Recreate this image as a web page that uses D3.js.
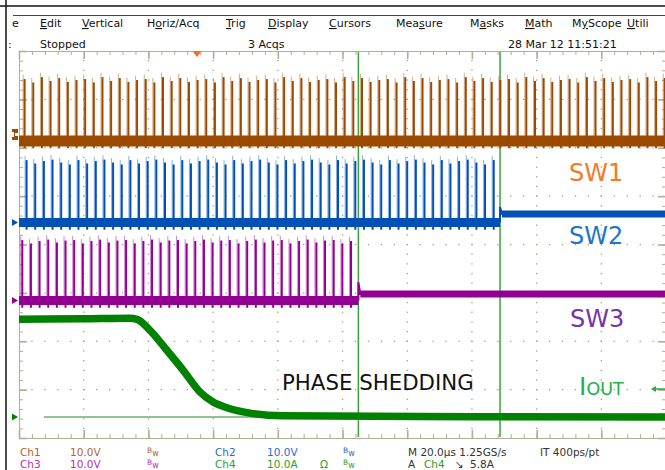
<!DOCTYPE html>
<html>
<head>
<meta charset="utf-8">
<script src="https://cdn.jsdelivr.net/npm/d3@7"></script>
<style>
  body { margin: 0; background: #fff; }
  svg { display: block; }
  text { font-family: "DejaVu Sans", sans-serif; }
  .ruler path, .ruler line { stroke: #b5ad95; }
  .ruler.major line { stroke-width: 1.6; }
</style>
</head>
<body>
<svg id="chart" width="665" height="470"></svg>
<script>
// ---- Menu / status texts
var menuItems = ["e", "Edit", "Vertical", "Horiz/Acq", "Trig", "Display", "Cursors", "Measure", "Masks", "Math", "MyScope", "Utili"];
var menuX = [12, 40, 82, 147, 226, 268, 329, 396, 470, 525, 572, 627];
var menuUnderline = [-1, 0, 0, 1, 0, 0, 0, 3, 1, 0, 1, 0];
var statusTexts = [":", "Stopped", "3 Acqs", "28 Mar 12 11:51:21"];
var statusX = [8, 40, 248, 508];

// ---- Timebase / verticals
var timePerDiv = 20;          // us per division
var nDivX = 10, nDivY = 8;
var triggerTime = 55;         // us
var cursorTimes = [104.9, 148.7];
var voltsPerDiv = 10, ampsPerDiv = 10;
var chOffsets = [2.14, 0.455, -1.158, -3.566];   // ground position, divisions

// ---- Switch nodes
var swPeriod = 2.674;                       // us
var firstPulse = [1.55, 2.16, 0.83];        // SW1, SW2, SW3
var stopTime = [200, 148.4, 104.6];         // last switching time
var sw1Peaks = [13.2, 12.5, 13.6, 12.8, 13.4, 12.6, 13.0];
var sw2Peaks = [13.3, 12.6, 13.1, 13.4, 12.8, 12.4];
var sw3Peaks = [12.9, 12.2, 12.7, 13.0, 12.4, 12.8];
var idleLevel = [0, 1.76, 1.34];            // level after phase is shed
var stepSpike = [0, 3.2, 3.8];

// ---- Output current
var ioutTime = [0, 20, 34.3, 36.5, 40.5, 45.7, 50.7, 55.9, 60, 64.3, 71.4, 81.6, 140, 200];
var ioutAmps = [20.2, 20.3, 20.4, 20.2, 17.9, 13.8, 9.7, 5.2, 3.1, 1.9, 0.8, 0.25, 0.05, 0.0];
var ioutRefStart = 7.7;

// ---- Bottom readouts
var infoRow1 = [
  { t: "Ch1", x: 20, c: "#b0652a" }, { t: "10.0V", x: 70, c: "#b0652a" }, { t: "BW", x: 147, c: "#b0652a" },
  { t: "Ch2", x: 215, c: "#2a6ad0" }, { t: "10.0V", x: 267, c: "#2a6ad0" }, { t: "BW", x: 343, c: "#2a6ad0" },
  { t: "M 20.0\u00b5s 1.25GS/s", x: 408, c: "#333" }, { t: "IT 400ps/pt", x: 540, c: "#333" }
];
var infoRow2 = [
  { t: "Ch3", x: 20, c: "#b032b8" }, { t: "10.0V", x: 70, c: "#b032b8" }, { t: "BW", x: 147, c: "#b032b8" },
  { t: "Ch4", x: 215, c: "#2aa02a" }, { t: "10.0A", x: 267, c: "#2aa02a" }, { t: "\u03a9", x: 320, c: "#2aa02a" },
  { t: "BW", x: 343, c: "#2aa02a" }, { t: "A", x: 408, c: "#333" }, { t: "Ch4", x: 424, c: "#2aa02a" },
  { t: "\u2198", x: 455, c: "#333" }, { t: "5.8A", x: 470, c: "#333" }
];

var traceColors = ["#9b4a00", "#0050b5", "#920092", "#008200"];

// ---- Scales
var grid = { left: 19, top: 51, width: 647, height: 387 };
var xScale = d3.scaleLinear().domain([0, nDivX * timePerDiv]).range([grid.left, grid.left + grid.width]);
var yScale = d3.scaleLinear().domain([nDivY / 2, -nDivY / 2]).range([grid.top, grid.top + grid.height]);
function chY(ch, perDiv) {
  return function (v) { return yScale(chOffsets[ch] + v / perDiv); };
}

var svg = d3.select("#chart");

// Window frame
svg.append("line").attr("x1", 0).attr("x2", 665).attr("y1", 6).attr("y2", 6).attr("stroke", "#111").attr("stroke-width", 1.5);
svg.append("line").attr("x1", 6).attr("x2", 6).attr("y1", 0).attr("y2", 470).attr("stroke", "#111").attr("stroke-width", 1.5);
svg.append("line").attr("x1", 13).attr("x2", 665).attr("y1", 15.5).attr("y2", 15.5).attr("stroke", "#444").attr("stroke-width", 1);

// Menu
menuItems.forEach(function (m, i) {
  var t = svg.append("text").attr("x", menuX[i]).attr("y", 27).attr("font-size", 11).attr("fill", "#111");
  var u = menuUnderline[i];
  if (u < 0) { t.text(m); return; }
  if (u > 0) t.append("tspan").text(m.slice(0, u));
  t.append("tspan").attr("text-decoration", "underline").text(m[u]);
  t.append("tspan").text(m.slice(u + 1));
});
statusTexts.forEach(function (s, i) {
  svg.append("text").attr("x", statusX[i]).attr("y", 48).attr("font-size", 11).attr("fill", "#111").text(s);
});

// Graticule rulers
var xMinor = d3.range(0, nDivX * timePerDiv + 0.01, timePerDiv / 5);
var xMajor = d3.range(0, nDivX * timePerDiv + 0.01, timePerDiv);
var yMinor = d3.range(-4, 4.01, 0.2);
var yMajor = d3.range(-4, 4.01, 1);

function ruler(axis, tr, cls) {
  var g = svg.append("g").attr("class", "ruler " + cls).attr("transform", tr).call(axis);
  g.selectAll("text").remove();
  if (cls === "major") g.select(".domain").remove();
}
ruler(d3.axisBottom(xScale).tickValues(xMinor).tickSize(4).tickSizeOuter(0).tickFormat(""), "translate(0," + grid.top + ")", "minor");
ruler(d3.axisBottom(xScale).tickValues(xMajor).tickSize(8).tickFormat(""), "translate(0," + grid.top + ")", "major");
ruler(d3.axisTop(xScale).tickValues(xMinor).tickSize(4).tickSizeOuter(0).tickFormat(""), "translate(0," + (grid.top + grid.height) + ")", "minor");
ruler(d3.axisTop(xScale).tickValues(xMajor).tickSize(8).tickFormat(""), "translate(0," + (grid.top + grid.height) + ")", "major");
ruler(d3.axisRight(yScale).tickValues(yMinor).tickSize(4).tickSizeOuter(0).tickFormat(""), "translate(" + grid.left + ",0)", "minor");
ruler(d3.axisRight(yScale).tickValues(yMajor).tickSize(8).tickFormat(""), "translate(" + grid.left + ",0)", "major");
ruler(d3.axisLeft(yScale).tickValues(yMinor).tickSize(4).tickSizeOuter(0).tickFormat(""), "translate(" + (grid.left + grid.width) + ",0)", "minor");
ruler(d3.axisLeft(yScale).tickValues(yMajor).tickSize(8).tickFormat(""), "translate(" + (grid.left + grid.width) + ",0)", "major");

// Dotted interior grid
var dots = [];
xMajor.slice(1, -1).forEach(function (t) { yMinor.slice(1, -1).forEach(function (v) { dots.push([t, v]); }); });
yMajor.slice(1, -1).forEach(function (v) { xMinor.slice(1, -1).forEach(function (t) { dots.push([t, v]); }); });
svg.append("g").selectAll("rect").data(dots).enter().append("rect")
  .attr("x", function (d) { return xScale(d[0]) - 0.6; })
  .attr("y", function (d) { return yScale(d[1]) - 0.6; })
  .attr("width", 1.3).attr("height", 1.3).attr("fill", "#a59f88");

// Cursors
svg.append("g").selectAll("line").data(cursorTimes).enter().append("line")
  .attr("x1", function (d) { return xScale(d); }).attr("x2", function (d) { return xScale(d); })
  .attr("y1", grid.top + 1).attr("y2", grid.top + grid.height - 1)
  .attr("stroke", "#3aa53a").attr("stroke-width", 1.5);

// Switch node traces
var line = d3.line().x(function (d) { return xScale(d[0]); });
var peakSets = [sw1Peaks, sw2Peaks, sw3Peaks];
var bandWidth = [11, 9, 9];
[0, 1, 2].forEach(function (ch) {
  var yv = chY(ch, voltsPerDiv);
  var col = traceColors[ch];
  var g = svg.append("g");
  var pulses = [];
  for (var t = firstPulse[ch], k = 0; t < stopTime[ch]; t += swPeriod, k++) {
    pulses.push({ t: t, p: peakSets[ch][k % peakSets[ch].length] });
  }
  // baseline band
  g.append("path").attr("d", line.y(function (d) { return yv(d[1]); })([[0, 0], [Math.min(stopTime[ch] + 0.3, 200), 0]]))
    .attr("stroke", col).attr("stroke-width", bandWidth[ch]).attr("fill", "none");
  // pulses: lighter overshoot edge + solid body
  g.selectAll(".lt").data(pulses).enter().append("line")
    .attr("x1", function (d) { return xScale(d.t) - 0.9; }).attr("x2", function (d) { return xScale(d.t) - 0.9; })
    .attr("y1", yv(0)).attr("y2", function (d) { return yv(d.p + 0.5); })
    .attr("stroke", col).attr("stroke-opacity", 0.45).attr("stroke-width", 1);
  g.selectAll(".pk").data(pulses).enter().append("line")
    .attr("x1", function (d) { return xScale(d.t) + 0.6; }).attr("x2", function (d) { return xScale(d.t) + 0.6; })
    .attr("y1", yv(-1.5)).attr("y2", function (d) { return yv(d.p - 0.4); })
    .attr("stroke", col).attr("stroke-width", 2);
  // phase shed: idle level after switching stops
  if (stopTime[ch] < 200) {
    var ts = stopTime[ch] + 0.3;
    g.append("path").attr("d", line.y(function (d) { return yv(d[1]); })([[ts, 0], [ts, stepSpike[ch]], [ts + 0.6, idleLevel[ch]], [200, idleLevel[ch]]]))
      .attr("stroke", col).attr("stroke-width", 2).attr("fill", "none");
    g.append("path").attr("d", line.y(function (d) { return yv(d[1]); })([[ts + 0.6, idleLevel[ch]], [200, idleLevel[ch]]]))
      .attr("stroke", col).attr("stroke-width", 7).attr("fill", "none");
  }
});

// Output current
var yi = chY(3, ampsPerDiv);
svg.append("path").attr("d", line.y(function (d) { return yi(d[1]); })([[ioutRefStart, 0], [200, 0]]))
  .attr("stroke", "#6ab26a").attr("stroke-width", 1.3).attr("fill", "none");
var ioutLine = d3.line().curve(d3.curveMonotoneX)
  .x(function (d, i) { return xScale(ioutTime[i]); })
  .y(function (d) { return yi(d); });
svg.append("path").attr("d", ioutLine(ioutAmps))
  .attr("stroke", traceColors[3]).attr("stroke-width", 7.5).attr("fill", "none");

// Ground markers
var markerX = grid.left - 1;
[1, 2, 3].forEach(function (ch) {
  var y = yScale(chOffsets[ch]);
  svg.append("path").attr("d", "M" + (markerX - 6) + "," + (y - 3.5) + "L" + markerX + "," + y + "L" + (markerX - 6) + "," + (y + 3.5) + "Z")
    .attr("fill", traceColors[ch]);
});
var y1m = yScale(chOffsets[0]) - 7;
svg.append("path")
  .attr("d", "M12," + (y1m - 5) + "H18V" + (y1m - 1) + "H15V" + (y1m + 2) + "H18V" + (y1m + 6) + "H12V" + (y1m + 3) + "H14V" + (y1m - 2) + "H12Z")
  .attr("fill", traceColors[0]);

// Trigger position marker
var tx = xScale(triggerTime);
svg.append("path").attr("d", "M" + (tx - 4.5) + "," + grid.top + "H" + (tx + 4.5) + "L" + tx + "," + (grid.top + 6) + "Z").attr("fill", "#ff6a1e");

// Annotations
svg.append("text").attr("x", 569).attr("y", 181).attr("font-family", "Liberation Sans, Arial").attr("font-size", 24).attr("fill", "#f47a28").text("SW1");
svg.append("text").attr("x", 569).attr("y", 244).attr("font-family", "Liberation Sans, Arial").attr("font-size", 24).attr("fill", "#1c76c8").text("SW2");
svg.append("text").attr("x", 570).attr("y", 327).attr("font-family", "Liberation Sans, Arial").attr("font-size", 24).attr("fill", "#7534a8").text("SW3");
svg.append("text").attr("x", 282).attr("y", 390).attr("font-family", "Liberation Sans, Arial").attr("font-size", 21.3).attr("fill", "#111").text("PHASE SHEDDING");
var io = svg.append("text").attr("x", 579).attr("y", 395).attr("font-family", "Liberation Sans, Arial").attr("fill", "#22b04a");
io.append("tspan").attr("font-size", 25).text("I");
io.append("tspan").attr("font-size", 17.5).text("OUT");
svg.append("path").attr("d", "M653,389H666").attr("stroke", "#22b04a").attr("stroke-width", 1.5);
svg.append("path").attr("d", "M651,389L656,386V392Z").attr("fill", "#22b04a");

// Bottom readouts
function infoRow(items, y) {
  items.forEach(function (d) {
    var t = svg.append("text").attr("x", d.x).attr("y", y).attr("font-size", 10.5).attr("fill", d.c);
    if (d.t === "BW") {
      t.append("tspan").attr("font-size", 7.5).attr("dy", -3).text("B");
      t.append("tspan").attr("font-size", 8).attr("dy", 3).text("w");
    } else {
      t.text(d.t);
    }
  });
}
infoRow(infoRow1, 456);
infoRow(infoRow2, 468);
</script>
</body>
</html>
